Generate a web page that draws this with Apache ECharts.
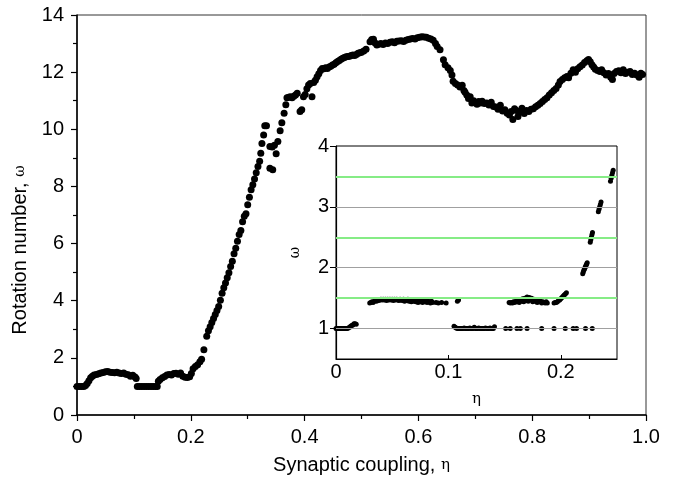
<!DOCTYPE html>
<html><head><meta charset="utf-8">
<script src="https://cdn.jsdelivr.net/npm/echarts@6/dist/echarts.min.js"></script>
<style>html,body{margin:0;padding:0;background:#fff}#c{width:678px;height:484px}</style>
</head><body><div id="c"></div>
<script>
// ---- Main chart data: [eta, omega] ----
const mainLow = [[0.000,1.00],[0.004,1.00],[0.008,1.00],[0.012,1.00],[0.015,1.03],[0.018,1.10],[0.021,1.20],[0.024,1.30],[0.027,1.36],[0.030,1.40],[0.034,1.42],[0.038,1.44],[0.042,1.47],[0.046,1.49],[0.050,1.51],[0.054,1.52],[0.058,1.50],[0.062,1.49],[0.066,1.48],[0.070,1.50],[0.074,1.47],[0.078,1.45],[0.082,1.47],[0.086,1.43],[0.090,1.41],[0.094,1.36],[0.098,1.39],[0.102,1.33],[0.104,1.28],
[0.106,1.00],[0.110,1.00],[0.114,1.00],[0.118,1.00],[0.122,1.00],[0.126,1.00],[0.130,1.00],[0.134,1.00],[0.138,1.00],[0.141,1.00],
[0.143,1.18],[0.146,1.24],[0.150,1.30],[0.154,1.35],[0.158,1.40],[0.162,1.42],[0.166,1.40],[0.170,1.45],[0.174,1.46],[0.178,1.43],[0.182,1.47],[0.186,1.36],[0.190,1.32],[0.194,1.31],[0.198,1.34],[0.201,1.45],[0.204,1.62],[0.208,1.70],[0.212,1.76],[0.216,1.86],[0.219,1.95],[0.223,2.28]];
const mainRise = [[0.228,2.76],[0.231,2.95],[0.234,3.09],[0.237,3.24],[0.240,3.38],[0.243,3.52],[0.246,3.66],[0.249,3.80],[0.252,4.02],[0.255,4.26],[0.258,4.45],[0.261,4.62],[0.264,4.80],[0.267,4.98],[0.270,5.20],[0.273,5.38],[0.276,5.64],[0.279,5.84],[0.282,6.08],[0.285,6.32],[0.288,6.46],[0.291,6.76],[0.294,6.96],[0.297,7.04],[0.300,7.36],[0.303,7.62],[0.306,7.88],[0.309,8.06],[0.312,8.26],[0.315,8.48],[0.318,8.70],[0.321,8.88],[0.323,9.16],[0.325,9.50],[0.328,9.80],[0.330,10.12],[0.333,10.12],
[0.339,9.40],[0.343,9.38],[0.347,9.44],[0.350,9.14],[0.339,8.64],[0.344,8.58],
[0.353,9.57],[0.357,9.95],[0.360,10.23],[0.364,10.56],[0.367,10.86],[0.369,11.10],[0.372,11.12],[0.375,11.14],[0.378,11.10],[0.381,11.16],[0.384,11.20],[0.387,11.26],[0.392,10.62],[0.395,10.68],[0.398,11.14],[0.401,11.22],[0.404,11.42],[0.407,11.55],[0.410,11.60],[0.413,11.14],[0.416,11.64],[0.419,11.72],[0.422,11.84],[0.425,11.94],[0.428,12.06],[0.431,12.13],[0.434,12.12],[0.437,12.15],[0.440,12.13],[0.443,12.18],[0.446,12.21],[0.449,12.25],[0.452,12.28],[0.455,12.33],[0.458,12.37],[0.461,12.41],[0.464,12.45],[0.467,12.49],[0.470,12.51],[0.473,12.54],[0.476,12.55],[0.479,12.56],[0.482,12.58],[0.485,12.60],[0.488,12.58],[0.491,12.62],[0.494,12.66],[0.497,12.68],[0.500,12.70],[0.504,12.74],[0.508,12.80]];
const mainPlateau = [[0.515,13.06],[0.518,13.14],[0.521,13.15],[0.524,13.02],[0.527,12.95],[0.530,12.98],[0.534,13.00],[0.538,12.97],[0.542,13.02],[0.546,13.00],[0.550,13.05],[0.554,13.06],[0.558,13.03],[0.562,13.08],[0.566,13.09],[0.570,13.10],[0.574,13.07],[0.578,13.12],[0.582,13.14],[0.586,13.16],[0.590,13.18],[0.594,13.16],[0.598,13.20],[0.602,13.22],[0.606,13.24],[0.610,13.23],[0.614,13.22],[0.618,13.19],[0.622,13.16],[0.626,13.12],[0.630,13.00]];
const mainDip = [[0.633,12.90],[0.638,12.78],[0.644,12.43],[0.647,12.26],[0.652,12.15],[0.656,12.06],[0.659,11.90],[0.661,11.68],[0.665,11.60],[0.669,11.55],[0.673,11.48],[0.677,11.54],[0.680,11.36],[0.682,11.30],[0.685,11.20],[0.688,11.08],[0.691,11.14],[0.694,10.92],[0.697,11.00],[0.700,10.95],[0.703,10.88],[0.706,10.97],[0.709,10.92],[0.712,10.98],[0.716,10.90],[0.720,10.92],[0.724,10.85],[0.728,10.95],[0.732,10.80],[0.736,10.78],[0.740,10.70],[0.744,10.84],[0.748,10.64],[0.752,10.68],[0.756,10.56],[0.760,10.50],[0.763,10.62],[0.766,10.34],[0.769,10.72],[0.772,10.66],[0.775,10.45],[0.778,10.60],[0.782,10.74],[0.786,10.55],[0.790,10.66],[0.794,10.62],[0.798,10.70],[0.802,10.72],[0.806,10.79],[0.810,10.84],[0.814,10.90],[0.818,10.97],[0.822,11.04],[0.826,11.10],[0.830,11.20],[0.834,11.28],[0.838,11.36],[0.842,11.43],[0.846,11.55],[0.849,11.67],[0.853,11.74],[0.857,11.80],[0.861,11.85],[0.864,11.80],[0.868,11.96],[0.872,12.08],[0.876,12.00],[0.880,12.12],[0.884,12.19],[0.888,12.25],[0.892,12.34],[0.896,12.40],[0.899,12.44],[0.902,12.36],[0.905,12.26],[0.908,12.18],[0.911,12.10],[0.915,12.06],[0.919,12.02],[0.922,12.08],[0.926,11.98],[0.930,11.90],[0.934,11.95],[0.938,11.82],[0.941,11.74],[0.944,11.95],[0.948,12.02],[0.952,12.05],[0.956,11.98],[0.960,12.08],[0.964,11.95],[0.968,12.00],[0.972,12.02],[0.976,11.92],[0.980,11.96],[0.984,11.90],[0.988,11.82],[0.991,11.96],[0.994,11.92]];

// ---- Inset data: [eta, omega] ----
const insetA = [[0,1.00],[0.001,1.00],[0.002,1.00],[0.003,1.00],[0.004,1.00],[0.005,1.00],[0.006,1.00],[0.007,1.00],[0.008,1.00],[0.009,1.00],[0.010,1.00],[0.011,1.01],[0.012,1.02],[0.013,1.04],[0.014,1.05],[0.015,1.06],[0.016,1.08],[0.017,1.08],[0.018,1.07]];
const insetB = [[0.030,1.42],[0.031,1.43],[0.032,1.44],[0.033,1.43],[0.034,1.45],[0.035,1.46],[0.036,1.45],[0.037,1.47],[0.038,1.46],[0.039,1.47],[0.040,1.48],[0.041,1.47],[0.042,1.48],[0.043,1.47],[0.044,1.48],[0.045,1.46],[0.046,1.48],[0.047,1.47],[0.048,1.48],[0.049,1.47],[0.050,1.48],[0.051,1.46],[0.052,1.48],[0.053,1.47],[0.054,1.48],[0.055,1.47],[0.056,1.46],[0.057,1.48],[0.058,1.47],[0.059,1.46],[0.060,1.48],[0.061,1.45],[0.062,1.47],[0.063,1.46],[0.064,1.48],[0.065,1.45],[0.066,1.47],[0.067,1.44],[0.068,1.46],[0.069,1.45],[0.070,1.47],[0.071,1.44],[0.072,1.46],[0.073,1.43],[0.074,1.45],[0.075,1.44],[0.076,1.46],[0.077,1.43],[0.078,1.45],[0.079,1.44],[0.080,1.46],[0.081,1.43],[0.082,1.45],[0.083,1.44],[0.084,1.42],[0.085,1.45],[0.086,1.43],
[0.089,1.43],[0.091,1.42],[0.094,1.43],[0.098,1.42],[0.108,1.45],[0.109,1.47]];
const insetC = [[0.105,1.04],[0.106,1.02],[0.107,1.01],[0.108,1.00],[0.109,1.00],[0.110,1.00],[0.111,1.00],[0.112,1.00],[0.113,1.00],[0.114,1.01],[0.115,1.00],[0.116,1.00],[0.117,1.00],[0.118,1.00],[0.119,1.01],[0.120,1.00],[0.121,1.00],[0.122,1.00],[0.123,1.02],[0.124,1.00],[0.125,1.00],[0.126,1.00],[0.127,1.01],[0.128,1.00],[0.129,1.00],[0.130,1.00],[0.131,1.00],[0.132,1.00],[0.133,1.01],[0.134,1.00],[0.135,1.00],[0.136,1.00],[0.137,1.01],[0.138,1.00],[0.139,1.00],[0.140,1.00],[0.141,1.03],
[0.151,1.00],[0.155,1.00],[0.161,1.00],[0.164,1.00],[0.170,1.00],[0.183,1.00],[0.194,1.00],[0.204,1.00],[0.211,1.00],[0.214,1.00],[0.222,1.00],[0.228,1.00]];
const insetD = [[0.154,1.43],[0.155,1.42],[0.156,1.43],[0.157,1.42],[0.158,1.44],[0.159,1.43],[0.160,1.45],[0.161,1.44],[0.162,1.46],[0.163,1.43],[0.164,1.47],[0.165,1.45],[0.166,1.49],[0.167,1.44],[0.168,1.50],[0.169,1.46],[0.170,1.52],[0.171,1.45],[0.172,1.51],[0.173,1.47],[0.174,1.50],[0.175,1.44],[0.176,1.48],[0.177,1.45],[0.178,1.47],[0.179,1.43],[0.180,1.46],[0.181,1.44],[0.182,1.45],[0.183,1.42],[0.184,1.44],[0.185,1.43],[0.186,1.42],[0.187,1.44],[0.188,1.42]];
const insetE = [[0.194,1.42],[0.195,1.43],[0.196,1.43],[0.197,1.44],[0.198,1.46],[0.199,1.47],[0.200,1.49],[0.201,1.51],[0.202,1.53],[0.203,1.55],[0.204,1.57],[0.205,1.59]];
const insetF = [[0.2195,1.90],[0.2200,1.93],[0.2205,1.96],[0.2210,1.98],[0.2215,2.00],[0.2220,2.02],[0.2225,2.04],[0.2230,2.06],[0.2235,2.08]];
const insetG = [[0.2262,2.42],[0.2267,2.46],[0.2272,2.50],[0.2277,2.54],[0.2282,2.58]];
const insetH = [[0.2334,2.92],[0.2340,2.96],[0.2346,3.00],[0.2352,3.04],[0.2358,3.08]];
const insetI = [[0.2442,3.42],[0.2448,3.47],[0.2454,3.52],[0.2460,3.56],[0.2466,3.60]];

// ---- Inset reference lines ----
const gridGray = [1, 2, 3];
const gridGreen = [1.5, 2.5, 3.5];

const FONT = 'Liberation Sans';
const mainData = mainLow.concat(mainRise, mainPlateau, mainDip);
const insetData = insetA.concat(insetB, insetC, insetD, insetE, insetF, insetG, insetH, insetI);

const chart = echarts.init(document.getElementById('c'), null, {renderer: 'canvas'});
const fmt1 = v => (v === 0 ? '0' : v.toFixed(1));
chart.setOption({
  animation: false,
  backgroundColor: '#fff',
  grid: [
    {left: 77, top: 15, width: 569, height: 400, show: true, borderColor: '#333', borderWidth: 1, backgroundColor: 'transparent'},
    {left: 336, top: 146, width: 281, height: 213, show: true, borderColor: '#000', borderWidth: 1, backgroundColor: 'transparent'}
  ],
  xAxis: [
    {gridIndex: 0, type: 'value', min: 0, max: 1, interval: 0.2,
     axisLine: {lineStyle: {color: '#000', width: 1.5}},
     axisTick: {length: 6, lineStyle: {color: '#000', width: 1.2}},
     minorTick: {show: true, splitNumber: 2, length: 4, lineStyle: {color: '#000', width: 1.2}},
     splitLine: {show: false},
     axisLabel: {formatter: fmt1, color: '#000', fontFamily: FONT, fontSize: 20, margin: 12},
     name: 'Synaptic coupling, {g|η}', nameLocation: 'middle', nameGap: 40,
     nameTextStyle: {color: '#000', fontFamily: FONT, fontSize: 20, rich: {g: {fontFamily: 'DejaVu Serif', fontSize: 15, color: '#000'}}}},
    {gridIndex: 1, type: 'value', min: 0, max: 0.25, interval: 0.1,
     axisLine: {lineStyle: {color: '#000', width: 1.2}},
     axisTick: {inside: true, length: 4, lineStyle: {color: '#000'}},
     splitLine: {show: false},
     axisLabel: {formatter: fmt1, showMaxLabel: false, color: '#000', fontFamily: FONT, fontSize: 20, margin: 3},
     name: 'η', nameLocation: 'middle', nameGap: 33,
     nameTextStyle: {color: '#000', fontFamily: 'DejaVu Serif', fontSize: 15}}
  ],
  yAxis: [
    {gridIndex: 0, type: 'value', min: 0, max: 14, interval: 2,
     axisLine: {lineStyle: {color: '#000', width: 1.5}},
     axisTick: {length: 6, lineStyle: {color: '#000', width: 1.2}},
     minorTick: {show: true, splitNumber: 2, length: 4, lineStyle: {color: '#000', width: 1.2}},
     splitLine: {show: false},
     axisLabel: {color: '#000', fontFamily: FONT, fontSize: 20, margin: 13},
     name: 'Rotation number, {g|ω}', nameLocation: 'middle', nameGap: 44, nameRotate: 90,
     nameTextStyle: {color: '#000', fontFamily: FONT, fontSize: 20, padding: [0, 70, 0, 0], rich: {g: {fontFamily: 'DejaVu Serif', fontSize: 14, color: '#000'}}}},
    {gridIndex: 1, type: 'value', min: 0.5, max: 4, splitNumber: 3,
     axisLine: {lineStyle: {color: '#000', width: 1.2}},
     axisTick: {length: 6, lineStyle: {color: '#000'}},
     splitLine: {show: false},
     axisLabel: {showMinLabel: false, color: '#000', fontFamily: FONT, fontSize: 20, margin: 7},
     name: 'ω', nameLocation: 'middle', nameGap: 34, nameRotate: 90,
     nameTextStyle: {color: '#000', fontFamily: 'DejaVu Serif', fontSize: 14}}
  ],
  series: [
    {type: 'scatter', xAxisIndex: 0, yAxisIndex: 0, data: mainData, symbolSize: 7,
     itemStyle: {color: '#000', opacity: 1}, z: 3},
    {type: 'scatter', xAxisIndex: 1, yAxisIndex: 1, data: [], z: 1, silent: true,
     markLine: {silent: true, symbol: 'none', label: {show: false}, animation: false,
       data: gridGray.map(v => ({yAxis: v, lineStyle: {color: '#a0a0a0', width: 1, type: 'solid'}}))
         .concat(gridGreen.map(v => ({yAxis: v, lineStyle: {color: '#86ec86', width: 2, type: 'solid'}})))}},
    {type: 'scatter', xAxisIndex: 1, yAxisIndex: 1, data: insetData, symbolSize: 5,
     itemStyle: {color: '#000', opacity: 1}, z: 3}
  ]
});
</script></body></html>
